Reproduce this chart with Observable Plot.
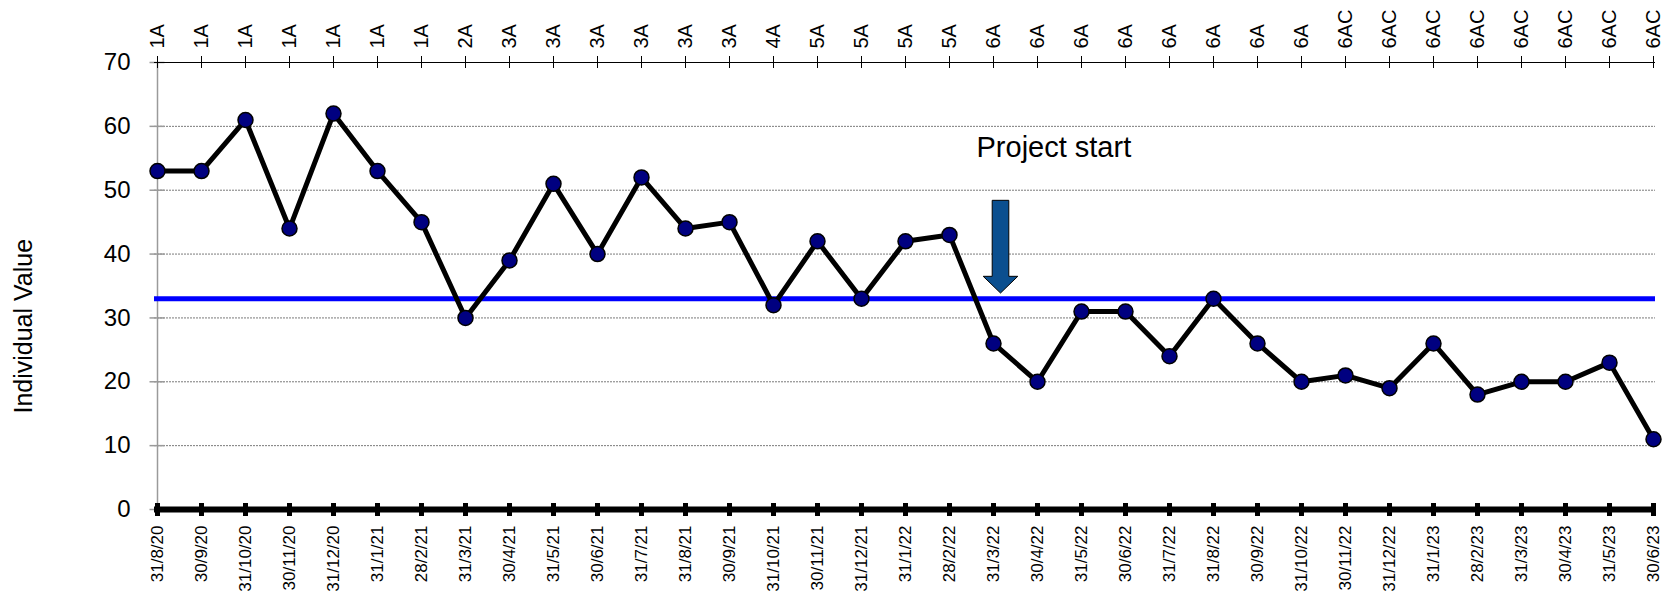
<!DOCTYPE html>
<html>
<head>
<meta charset="utf-8">
<script src="https://cdn.jsdelivr.net/npm/d3@7"></script>
<script src="https://cdn.jsdelivr.net/npm/@observablehq/plot@0.6"></script>
<style>
  html, body { margin: 0; padding: 0; background: #ffffff; }
  #chart svg { display: block; }
</style>
</head>
<body>
<div id="chart"></div>
<script>
// ---- data ----
const dates = ["31/8/20","30/9/20","31/10/20","30/11/20","31/12/20","31/1/21","28/2/21","31/3/21","30/4/21","31/5/21",
  "30/6/21","31/7/21","31/8/21","30/9/21","31/10/21","30/11/21","31/12/21","31/1/22","28/2/22","31/3/22",
  "30/4/22","31/5/22","30/6/22","31/7/22","31/8/22","30/9/22","31/10/22","30/11/22","31/12/22","31/1/23",
  "28/2/23","31/3/23","30/4/23","31/5/23","30/6/23"];
const values = [53,53,61,44,62,53,45,30,39,51,
  40,52,44,45,32,42,33,42,43,26,
  20,31,31,24,33,26,20,21,19,26,
  18,20,20,23,11];
const phases = ["1A","1A","1A","1A","1A","1A","1A","2A","3A","3A",
  "3A","3A","3A","3A","4A","5A","5A","5A","5A","6A",
  "6A","6A","6A","6A","6A","6A","6A","6AC","6AC","6AC",
  "6AC","6AC","6AC","6AC","6AC"];
const yTicks = [0,10,20,30,40,50,60,70];
const gridValues = [10,20,30,40,50,60];
const referenceLine = [33];
const yTitle = "Individual Value";
const yTitleAt = 28.7;
const annotationText = "Project start";
const annotationDate = "31/3/22";
const annotationTextY = 55.2;
const arrowTipY = 33.9;

// ---- build table ----
const rows = dates.map((d, i) => ({date: d, value: values[i], phase: phases[i]}));
const phaseByDate = new Map(rows.map(r => [r.date, r.phase]));

const sans = "'Liberation Sans', Arial, Helvetica, sans-serif";

// block arrow symbol: tip at origin, pointing down
const blockArrow = {
  draw(context) {
    const w = 8.3, hw = 17.3, hl = 16.7, len = 92.7;
    context.moveTo(-w, -len);
    context.lineTo(w, -len);
    context.lineTo(w, -hl);
    context.lineTo(hw, -hl);
    context.lineTo(0, 0);
    context.lineTo(-hw, -hl);
    context.lineTo(-w, -hl);
    context.closePath();
  }
};

const chart = Plot.plot({
  width: 1680,
  height: 595,
  marginLeft: 154,
  marginRight: 25,
  marginTop: 62,
  marginBottom: 86,
  style: {fontFamily: sans, background: "#ffffff", color: "#000000"},
  x: {type: "point", domain: dates, padding: 0},
  y: {domain: [0, 70]},
  marks: [
    // dotted gridlines
    Plot.ruleY(gridValues, {stroke: "#7a7a7a", strokeWidth: 1, strokeDasharray: "2,1"}),
    // left axis line and ticks (gray)
    Plot.ruleX([dates[0]], {stroke: "#9a9a9a", strokeWidth: 1.5}),
    Plot.ruleY(yTicks, {x1: () => dates[0], x2: () => dates[0], insetLeft: -7.5, insetRight: -7.5, stroke: "#9a9a9a", strokeWidth: 1.5}),
    // top line and ticks
    Plot.ruleY([70], {stroke: "#000000", strokeWidth: 1}),
    Plot.ruleX(dates, {x: d => d, y1: () => 70, y2: () => 70, insetTop: -6, insetBottom: -6, stroke: "#000000", strokeWidth: 1}),
    // reference line
    Plot.ruleY(referenceLine, {stroke: "#0000ff", strokeWidth: 5}),
    // series
    Plot.line(rows, {x: "date", y: "value", stroke: "#000000", strokeWidth: 5, strokeLinejoin: "miter"}),
    Plot.dot(rows, {x: "date", y: "value", r: 7.5, fill: "#000080", stroke: "#000000", strokeWidth: 1.5}),
    // thick bottom axis line with ticks
    Plot.ruleY([0], {stroke: "#000000", strokeWidth: 6}),
    Plot.ruleX(dates, {x: d => d, y1: () => 0, y2: () => 0, insetTop: -6, insetBottom: -7, stroke: "#000000", strokeWidth: 5}),
    // annotation
    Plot.text([annotationText], {x: () => annotationDate, y: () => annotationTextY, text: d => d,
      textAnchor: "start", lineAnchor: "bottom", dx: -17, fontSize: 29, fill: "#000000"}),
    Plot.dot([arrowTipY], {x: () => annotationDate, y: d => d, symbol: blockArrow, r: 10, dx: 7,
      fill: "#0b4f8f", stroke: "#000000", strokeWidth: 1}),
    // axes
    Plot.axisY({ticks: yTicks, tickSize: 0, tickPadding: 24, fontSize: 24, label: null}),
    Plot.axisX({anchor: "bottom", tickSize: 0, tickPadding: 16, tickRotate: -90, fontSize: 17, label: null}),
    Plot.axisX({anchor: "top", tickSize: 0, tickPadding: 14, tickRotate: -90, fontSize: 20, label: null,
      tickFormat: d => phaseByDate.get(d)}),
    // y title
    Plot.text([yTitle], {frameAnchor: "left", y: () => yTitleAt, text: d => d, rotate: -90, dx: -131,
      textAnchor: "middle", lineAnchor: "middle", fontSize: 25, fill: "#000000"})
  ]
});

document.getElementById("chart").appendChild(chart);
</script>
</body>
</html>
